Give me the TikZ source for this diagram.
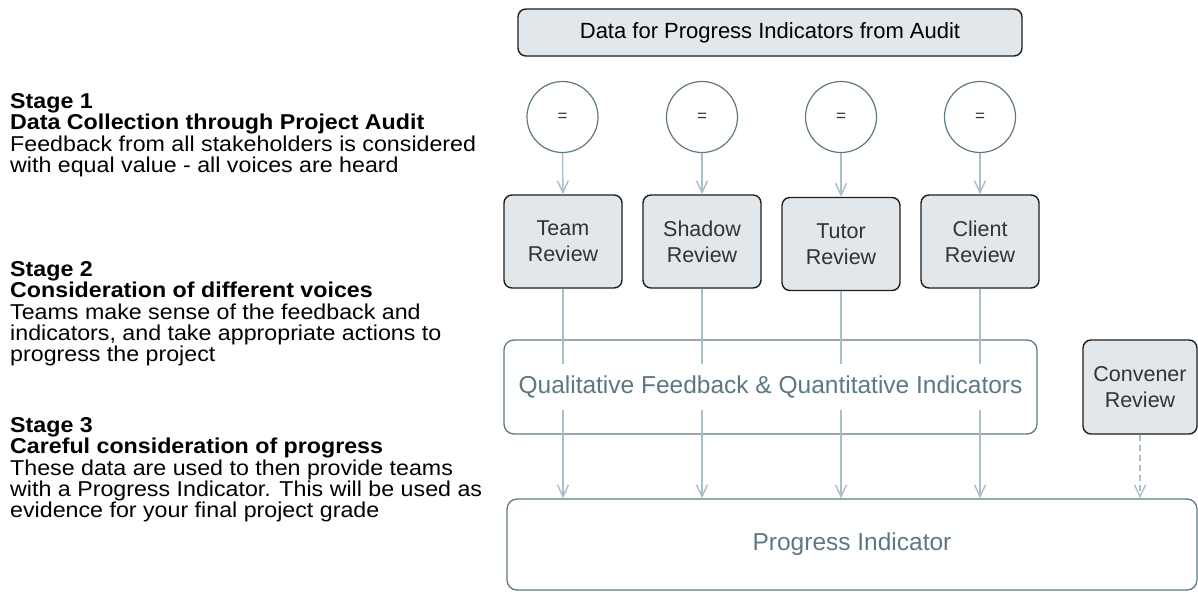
\documentclass[tikz,border=0pt]{standalone}
\usepackage{fontspec}
\setmainfont{Liberation Sans}
\newfontfamily\stagefont{Liberation Sans}[FakeStretch=1.08]
\usetikzlibrary{arrows.meta}

\definecolor{boxfill}{HTML}{E1E7EB}
\definecolor{boxline}{HTML}{1E1E1E}
\definecolor{slate}{HTML}{5E7883}
\definecolor{arrowgrey}{HTML}{A9BFC7}
\definecolor{inkgrey}{HTML}{333333}

\begin{document}
\begin{tikzpicture}[x=1pt, y=-1pt,
        reviewnode/.style={rectangle, rounded corners=8pt, draw=boxline, fill=boxfill, line width=1.4pt, minimum width=118pt, minimum height=93pt, align=center, text=inkgrey, font=\fontsize{21.5}{26}\selectfont},
        headnode/.style={reviewnode, minimum width=504pt, minimum height=47pt, text=black, font=\fontsize{22}{26}\selectfont},
        eqnode/.style={circle, draw=slate, line width=1.2pt, minimum size=71pt, inner sep=0pt, text=inkgrey, font=\fontsize{17}{20}\selectfont},
        widenode/.style={rectangle, rounded corners=10pt, draw=slate, line width=1.3pt, inner sep=0pt},
        widetext/.style={fill=white, inner xsep=4pt, minimum height=46pt, text=slate, font=\fontsize{24.5}{28}\selectfont},
        stagetext/.style={anchor=north west, inner sep=0pt, align=left, font=\stagefont\fontsize{21.5}{21.2}\selectfont},
        link/.style={draw=arrowgrey, line width=1.4pt, -{Straight Barb[length=12pt, width=11pt]}},
        ]
        \useasboundingbox (0,0) rectangle (1198,592);

        %Stage notes
        \node[stagetext] (stageone) at (10,93.5) {\textbf{Stage 1}\\\textbf{Data Collection through Project Audit}\\Feedback from all stakeholders is considered\\with equal value - all voices are heard};
        \node[stagetext] (stagetwo) at (10,261.5) {\textbf{Stage 2}\\\textbf{Consideration of different voices}\\Teams make sense of the feedback and\\indicators, and take appropriate actions to\\progress the project};
        \node[stagetext] (stagethree) at (10,417.5) {\textbf{Stage 3}\\\textbf{Careful consideration of progress}\\These data are used to then provide teams\\with a Progress Indicator. This will be used as\\evidence for your final project grade};

        %Nodes
        \node[headnode] (audit) at (770,32.5) {Data for Progress Indicators from Audit};
        \node[eqnode] (eqteam)   at (562.5,117) {=};
        \node[eqnode] (eqshadow) at (702,117)   {=};
        \node[eqnode] (eqtutor)  at (841,117)   {=};
        \node[eqnode] (eqclient) at (980,117)   {=};
        \node[reviewnode] (teamrev)   at (563,241.5) {Team\\Review};
        \node[reviewnode] (shadowrev) at (702,241.5) {Shadow\\Review};
        \node[reviewnode] (tutorrev)  at (841,244)   {Tutor\\Review};
        \node[reviewnode] (clientrev) at (980,241.5) {Client\\Review};
        \node[widenode, minimum width=533pt, minimum height=94pt] (qualbox) at (770.5,387) {};
        \node[reviewnode, minimum width=114pt, minimum height=94pt] (convrev) at (1140,387) {Convener\\Review};
        \node[widenode, minimum width=690pt, minimum height=91pt, text=slate, font=\fontsize{24.5}{28}\selectfont] (progind) at (852,544.5) {Progress Indicator};

        %Lines
        \foreach \src/\dst in {eqteam/teamrev, eqshadow/shadowrev, eqtutor/tutorrev, eqclient/clientrev}
            \draw[link] (\src.south) -- (\dst.north);
        \foreach \src in {teamrev, shadowrev, tutorrev, clientrev}
            \draw[link] (\src.south) -- (\src.south |- progind.north);
        \draw[link, dash pattern=on 6pt off 4pt] (convrev.south) -- (convrev.south |- progind.north);

        % label sits over the lines
        \node[widetext] (qualtext) at (qualbox.center) {Qualitative Feedback \& Quantitative Indicators};
\end{tikzpicture}
\end{document}
